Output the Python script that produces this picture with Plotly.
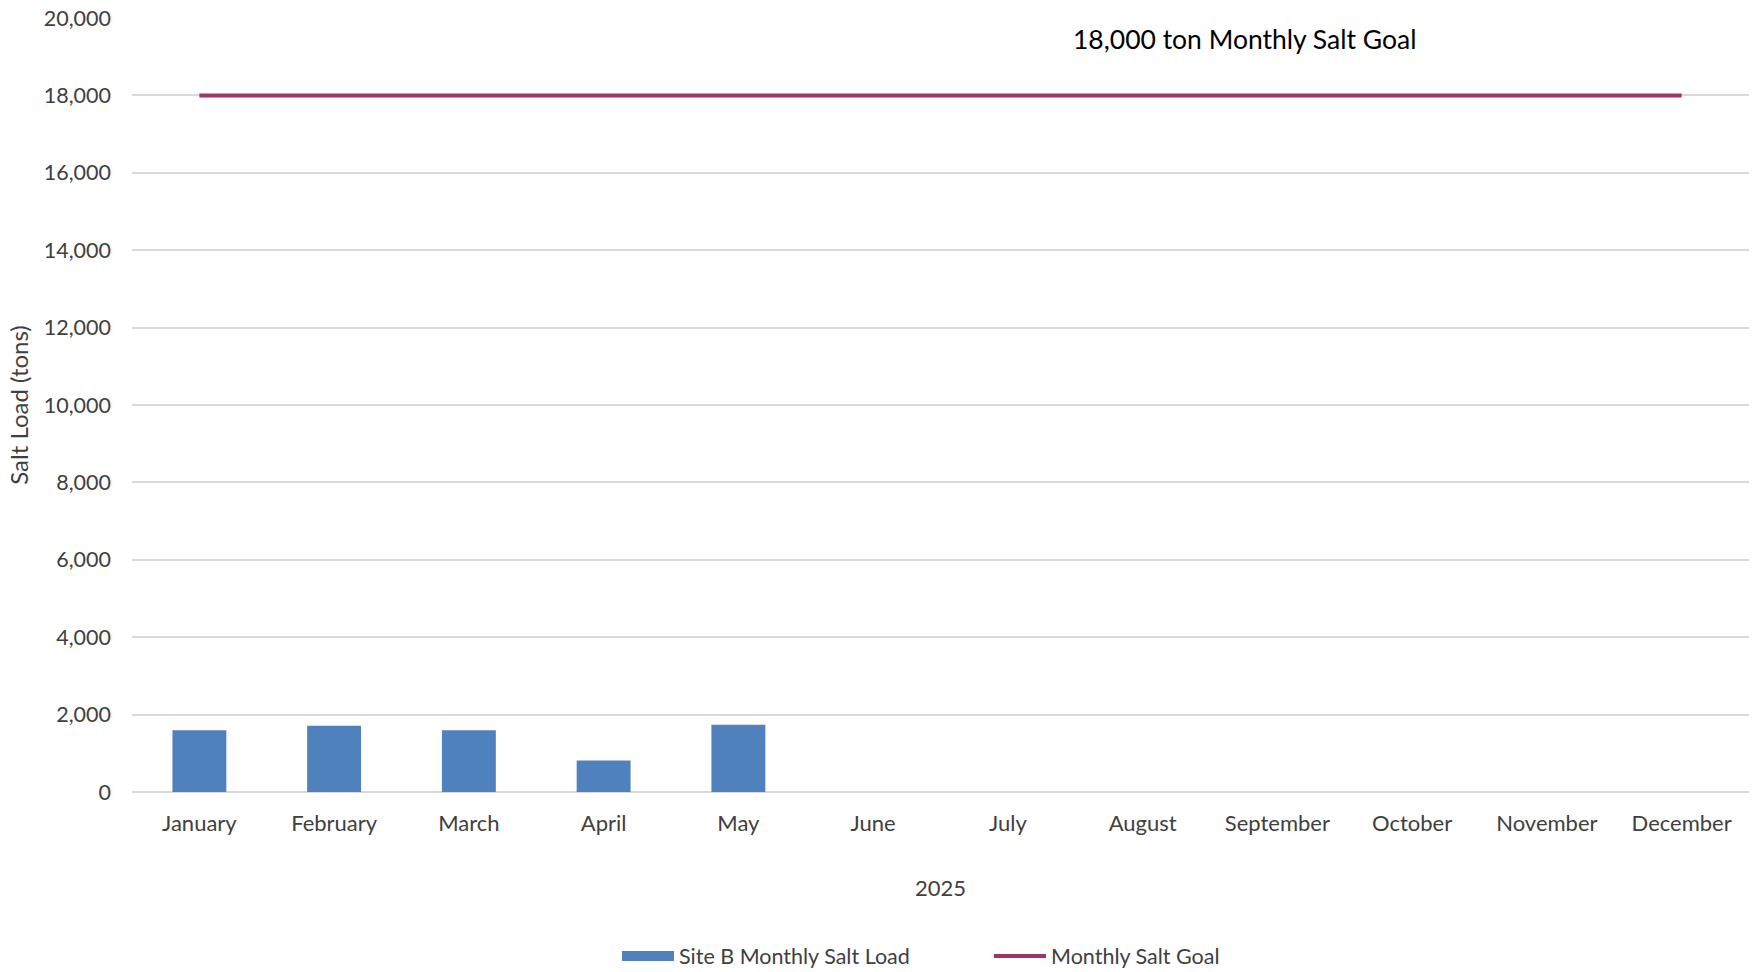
import plotly.graph_objects as go

months = ["January", "February", "March", "April", "May", "June", "July",
          "August", "September", "October", "November", "December"]
salt_load = [1594, 1712, 1594, 812, 1738, None, None, None, None, None, None, None]
goal = [18000] * 12
y_ticks = list(range(0, 20001, 2000))

FONT = "Lato, 'Open Sans', sans-serif"
BAR_COLOR = "#4F81BD"
LINE_COLOR = "#9E3468"

fig = go.Figure()
fig.add_trace(go.Bar(
    x=months, y=salt_load, name="Site B Monthly Salt Load",
    marker=dict(color=BAR_COLOR, line=dict(width=0)),
    showlegend=False,
))
# legend proxy giving a wide rectangular swatch like the original
fig.add_trace(go.Scatter(
    x=[None], y=[None], name="Site B Monthly Salt Load", mode="lines",
    line=dict(color=BAR_COLOR, width=13),
))
fig.add_trace(go.Scatter(
    x=months, y=goal, name="Monthly Salt Goal", mode="lines",
    line=dict(color=LINE_COLOR, width=4),
))

fig.add_annotation(
    x=0.688, y=0.973, xref="paper", yref="paper", yanchor="middle", xanchor="center",
    text="18,000 ton Monthly Salt Goal", showarrow=False,
    font=dict(size=26.5, color="#000000", family=FONT),
)

fig.update_layout(
    width=1760, height=972,
    margin=dict(l=132, r=11, t=18, b=180, autoexpand=False),
    paper_bgcolor="white", plot_bgcolor="white",
    font=dict(family=FONT, size=21, color="#404040"),
    bargap=0.6,
    showlegend=True,
    legend=dict(orientation="h", x=0.53, xanchor="center", y=-0.212, yanchor="middle",
                font=dict(size=21.5, color="#404040"), itemwidth=52,
                entrywidth=305, entrywidthmode="pixels",
                traceorder="normal", tracegroupgap=0),
    xaxis=dict(
        title=dict(text="2025", font=dict(size=22, color="#404040"), standoff=45),
        showgrid=False, showline=False, ticks="", tickfont=dict(size=22),
        ticklabelstandoff=16, automargin=False,
    ),
    yaxis=dict(
        title=dict(text="Salt Load (tons)", font=dict(size=24, color="#404040"), standoff=8),
        range=[0, 20000], tickvals=y_ticks, tickformat=",",
        showgrid=True, gridcolor="#D9D9D9", gridwidth=1.5,
        zeroline=True, zerolinecolor="#D9D9D9", zerolinewidth=2,
        showline=False, ticks="", tickfont=dict(size=21.5),
        ticklabelstandoff=20, automargin=False,
    ),
)

fig.write_html("out.html")
